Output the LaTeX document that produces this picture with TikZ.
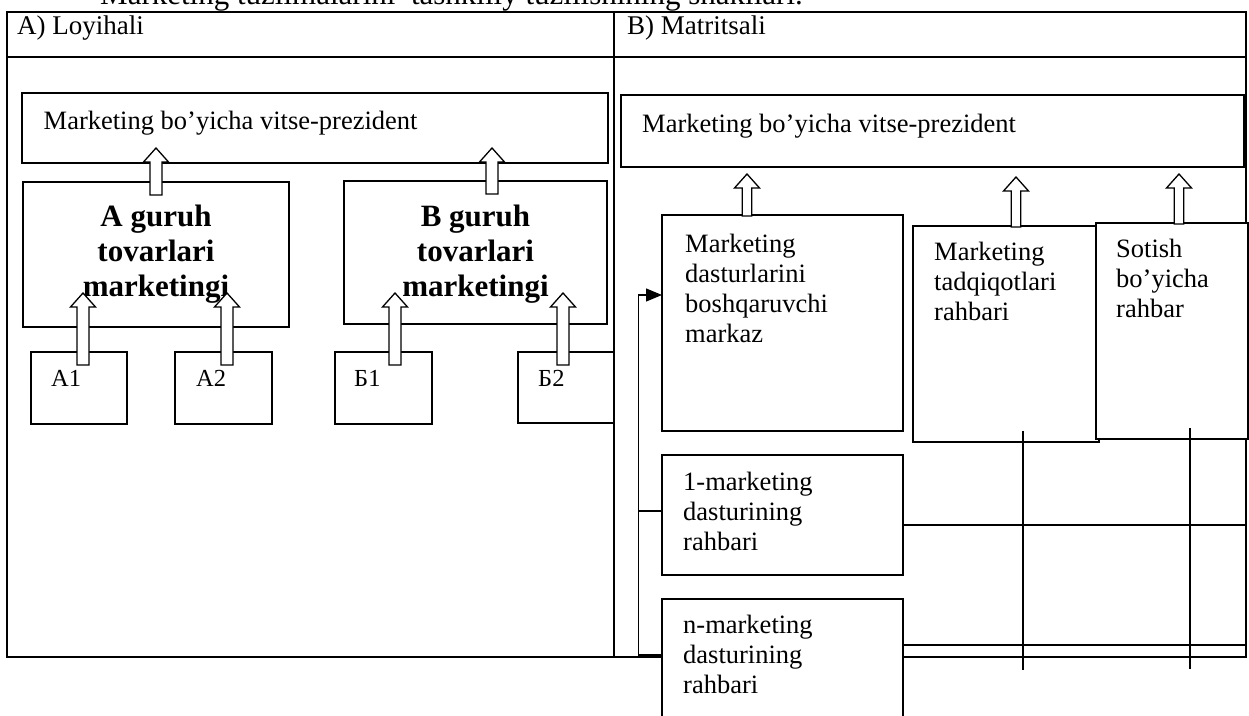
\documentclass[tikz,border=0pt]{standalone}
\usepackage{fontspec}
\setmainfont{Liberation Serif}
\usetikzlibrary{arrows.meta,calc}
% hollow block arrow: #1 shaft bottom, #2 tip, #3 shaft half width
\newcommand\hollowarrow[3]{%
  \path (#1) coordinate (hb) (#2) coordinate (ht);
  \draw[harrow] ([xshift=-#3]hb) -- ([shift={(-#3,-14)}]ht) -- ([shift={(-12.5,-14)}]ht) -- (ht)
     -- ([shift={(12.5,-14)}]ht) -- ([shift={(#3,-14)}]ht) -- ([xshift=#3]hb) -- cycle;}
\begin{document}
\begin{tikzpicture}[x=1pt,y=1pt,
  frame/.style={line width=1.8pt},
  box/.style={draw, line width=1.6pt, fill=white, inner sep=0pt, outer sep=0pt, anchor=north west},
  txt/.style={inner sep=0pt, anchor=north west, align=left, font=\fontsize{26.5}{30}\selectfont},
  line1/.style={inner sep=0pt, anchor=base west, font=\fontsize{26.5}{30}\selectfont},
  head/.style={inner sep=0pt, anchor=base west, font=\fontsize{27}{30}\selectfont},
  lab/.style={inner sep=0pt, anchor=base west, font=\fontsize{24.5}{28}\selectfont},
  boldtxt/.style={inner sep=0pt, anchor=north, align=center, font=\fontsize{31}{35}\selectfont\bfseries},
  harrow/.style={line width=1.3pt, fill=white},
  gridline/.style={line width=1.4pt},
  link/.style={line width=1.2pt}]
\clip (0,0) rectangle (1249,715);
\useasboundingbox (0,0) rectangle (1249,715);
% title (cut off at the top)
\node[inner sep=0pt, anchor=base west, font=\fontsize{31}{31}\selectfont] (title) at (100,710)
  {Marketing tuzilmalarini\ \ tashkiliy tuzilishining shakllari.};
% table frame
\coordinate (tl) at (7,703);
\coordinate (br) at (1246,58);
\draw[frame] (tl) rectangle (br);
\draw[frame] (7,658) -- (1246,658);
\draw[frame] (614,703) -- (614,58);
\node[head] (hA) at (17,680) {A) Loyihali};
\node[head] (hB) at (627,680) {B) Matritsali};
% ---------- left panel ----------
\node[box, minimum width=586, minimum height=70] (vpA) at (22,622) {};
\node[line1] (vpAt) at ([shift={(21.5,-37)}]vpA.north west) {Marketing bo’yicha vitse-prezident};
\node[box, minimum width=266, minimum height=145] (grpA) at (23,533) {};
\node[box, minimum width=263, minimum height=143] (grpB) at (344,534) {};
\node[boldtxt] (grpAt) at ([yshift=-23]grpA.north) {A guruh\\tovarlari\\marketingi};
\node[boldtxt] (grpBt) at ([yshift=-24]grpB.north) {B guruh\\tovarlari\\marketingi};
\node[box, minimum width=96, minimum height=72] (a1) at (31,363) {};
\node[box, minimum width=97, minimum height=72] (a2) at (175,363) {};
\node[box, minimum width=97, minimum height=72] (b1) at (335,363) {};
\node[box, minimum width=96, minimum height=71] (b2) at (518,363) {};
\node[lab] (a1t) at (51,328) {А1};
\node[lab] (a2t) at (196,328) {А2};
\node[lab] (b1t) at (354,328) {Б1};
\node[lab] (b2t) at (538,328) {Б2};
\hollowarrow{$(grpA.north)+(0,-13)$}{$(grpA.north)+(0,34)$}{6}
\hollowarrow{$(grpB.north)+(16.5,-13)$}{$(grpB.north)+(16.5,33)$}{6}
\hollowarrow{$(a1.north)+(4,-13)$}{$(a1.north)+(4,59)$}{6}
\hollowarrow{$(a2.north)+(3.5,-13)$}{$(a2.north)+(3.5,59)$}{6}
\hollowarrow{$(b1.north)+(11.5,-13)$}{$(b1.north)+(11.5,59)$}{6}
\hollowarrow{$(b2.north)+(-3,-13)$}{$(b2.north)+(-3,59)$}{6}
% ---------- right panel ----------
\node[box, minimum width=623, minimum height=72] (vpB) at (621,620) {};
\node[line1] (vpBt) at ([shift={(21,-38)}]vpB.north west) {Marketing bo’yicha vitse-prezident};
\node[box, minimum width=241, minimum height=216] (ctr) at (662,500) {};
\node[box, minimum width=186, minimum height=216] (res) at (913,489) {};
\node[box, minimum width=152, minimum height=216] (sal) at (1096,492) {};
\node[box, minimum width=241, minimum height=120] (p1) at (662,260) {};
\node[box, minimum width=241, minimum height=170] (pn) at (662,116) {};
\node[txt] (ctrt) at ([shift={(23,-18.9)}]ctr.north west) {Marketing\\dasturlarini\\boshqaruvchi\\markaz};
\node[txt] (rest) at ([shift={(21,-15.9)}]res.north west) {Marketing\\tadqiqotlari\\rahbari};
\node[txt] (salt) at ([shift={(20,-15.9)}]sal.north west) {Sotish\\bo’yicha\\rahbar};
\node[txt] (p1t) at ([shift={(21,-16.9)}]p1.north west) {1-marketing\\dasturining\\rahbari};
\node[txt] (pnt) at ([shift={(21,-15.9)}]pn.north west) {n-marketing\\dasturining\\rahbari};
\hollowarrow{$(ctr.north)+(-35.5,-1)$}{$(ctr.north)+(-35.5,41)$}{4.75}
\hollowarrow{$(res.north)+(10,-1)$}{$(res.north)+(10,49)$}{4.75}
\hollowarrow{$(sal.north)+(7,-1)$}{$(sal.north)+(7,49)$}{4.75}
% programme bus
\coordinate (busbot) at ([shift={(-23.5,-56)}]pn.north west);
\draw[link, -{Triangle[length=16pt,width=13pt]}] ([yshift=-56]pn.north west) -- (busbot) |- ([yshift=-80]ctr.north west);
\draw[link] ([yshift=4]p1.west) -- ([yshift=4]p1.west -| busbot);
% matrix grid
\coordinate (g1top) at (1023,284);
\coordinate (g2top) at (1190,287);
\draw[gridline] (g1top) -- (1023,45);
\draw[gridline] (g2top) -- (1190,46);
\draw[gridline] ([yshift=-10]p1.east) -- (1246,190);
\draw[gridline] ([yshift=-46]pn.north east) -- (1246,70);
\end{tikzpicture}
\end{document}
